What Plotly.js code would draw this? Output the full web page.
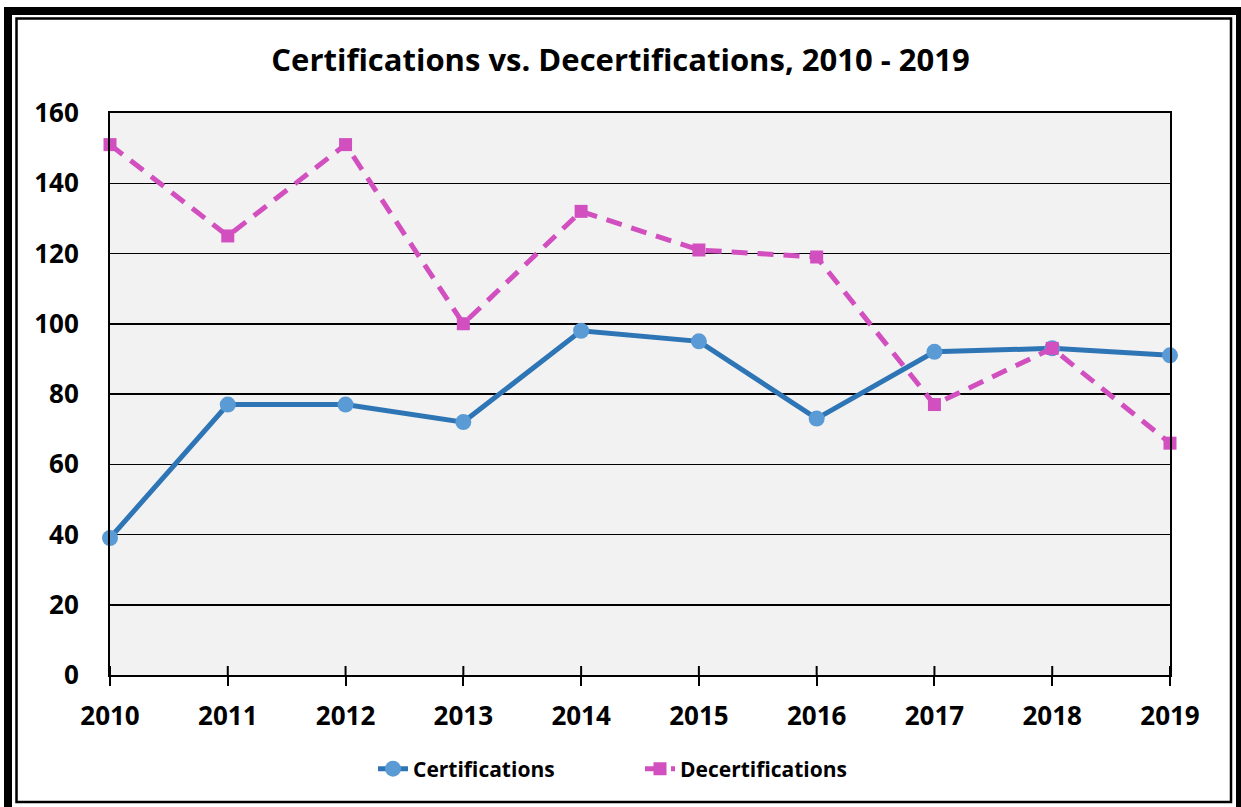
<!DOCTYPE html>
<html><head><meta charset="utf-8">
<script src="https://cdn.plot.ly/plotly-3.0.1.min.js"></script>
<style>html,body{margin:0;padding:0;background:#fff}#chart{width:1241px;height:807px}</style>
</head><body><div id="chart"></div>
<script>
const years = [2010, 2011, 2012, 2013, 2014, 2015, 2016, 2017, 2018, 2019];
const certifications = [39, 77, 77, 72, 98, 95, 73, 92, 93, 91];
const decertifications = [151, 125, 151, 100, 132, 121, 119, 77, 93, 66];
const yTicks = [0, 20, 40, 60, 80, 100, 120, 140, 160];

const W = 1241, H = 807, L = 110, R = 1170, T = 113, B = 675;
const px = v => (v - L) / (R - L);
const py = v => (B - v) / (B - T);
const font = "'Open Sans', 'Liberation Sans', sans-serif";

const traces = [
  {x: years, y: certifications, name: 'Certifications', type: 'scatter', mode: 'lines+markers',
   line: {color: '#2e75b6', width: 5}, marker: {color: '#5b9bd5', size: 16, symbol: 'circle'}, cliponaxis: false},
  {x: years, y: decertifications, name: 'Decertifications', type: 'scatter', mode: 'lines+markers',
   line: {color: '#d24fbf', width: 5, dash: '16px,10px'}, marker: {color: '#d24fbf', size: 13, symbol: 'square'}, cliponaxis: false}
];

const tickShapes = years.map(yr => ({type: 'line', xref: 'x', yref: 'paper', x0: yr, x1: yr, y0: 0, y1: 9 / (B - T),
  line: {color: '#000', width: 2}}));

const layout = {
  width: W, height: H,
  margin: {l: L, r: W - R, t: T, b: H - B},
  paper_bgcolor: '#ffffff', plot_bgcolor: '#f2f2f2',
  title: {text: '<b>Certifications vs. Decertifications, 2010 - 2019</b>', font: {family: font, size: 31, color: '#000'},
          x: 0.5, xanchor: 'center', y: 1 - 60 / H, yanchor: 'middle'},
  xaxis: {range: [2010, 2019], tickvals: years, ticktext: years.map(String), showgrid: false, zeroline: false,
          showline: true, linecolor: '#000', linewidth: 2, mirror: true, ticks: 'outside', ticklen: 9, tickwidth: 2, tickcolor: '#000',
          ticklabelstandoff: 8,
          tickfont: {family: font, size: 26, color: '#000', weight: 'bold'}, fixedrange: true},
  yaxis: {range: [0, 160], tickvals: yTicks, showgrid: true, gridcolor: '#000', gridwidth: 1.5, zeroline: false,
          showline: true, linecolor: '#000', linewidth: 2, mirror: true, ticks: '', ticklabelstandoff: 24,
          tickfont: {family: font, size: 26, color: '#000', weight: 'bold'}, fixedrange: true},
  legend: {orientation: 'h', x: 0.5, xanchor: 'center', y: py(769), yanchor: 'middle',
           font: {family: font, size: 21, color: '#000', weight: 'bold'}, entrywidth: 222, entrywidthmode: 'pixels',
           bgcolor: 'rgba(0,0,0,0)'},
  shapes: [
    {type: 'rect', xref: 'paper', yref: 'paper', x0: px(8), x1: px(1240), y0: py(11), y1: py(811),
     line: {color: '#000', width: 8}},
    {type: 'rect', xref: 'paper', yref: 'paper', x0: px(16.5), x1: px(1231), y0: py(18.5), y1: py(802),
     line: {color: '#000', width: 2.5}}
  ].concat(tickShapes),
  showlegend: true
};
Plotly.newPlot('chart', traces, layout, {displayModeBar: false, staticPlot: true});
</script></body></html>
